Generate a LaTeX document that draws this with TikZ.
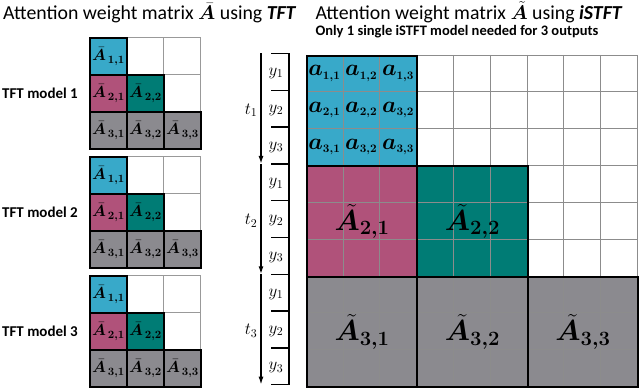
\RequirePackage{fix-cm}
\documentclass[tikz,border=0pt]{standalone}
\usepackage{amsmath, amssymb}
\usepackage{bm}
\usepackage[no-math]{fontspec}
\setmainfont{Carlito}
\usepackage{xcolor}
\definecolor{attnblue}{HTML}{38A9C9}
\definecolor{attnpink}{HTML}{B0527A}
\definecolor{attnteal}{HTML}{007C75}
\definecolor{attngray}{HTML}{8B8A8F}
\usepackage{tikz}
\usetikzlibrary{arrows.meta,positioning,calc}

\begin{document}
\begin{tikzpicture}[
  x=1pt, y=-1pt,
  title/.style={font=\fontsize{19.8}{22}\selectfont, inner sep=0pt},
  subtitle/.style={font=\fontsize{14.5}{16}\selectfont\bfseries, inner sep=0pt},
  model/.style={font=\fontsize{15}{17}\selectfont\bfseries, inner sep=0pt},
  wcell/.style={rectangle, draw=black!40, line width=0.6pt, minimum size=37pt,
                inner sep=0pt, anchor=north west},
  scell/.style={rectangle, draw=black, line width=1.8pt, minimum size=37pt,
                inner sep=0pt, anchor=north west, font=\fontsize{16}{18}\selectfont},
  gridline/.style={draw=black!45, line width=0.6pt},
  bblock/.style={rectangle, draw=black, line width=1.8pt, minimum size=110.4pt,
                 inner sep=0pt, anchor=north west, font=\fontsize{29}{31}\selectfont},
  aval/.style={font=\fontsize{23}{25}\selectfont, inner sep=0pt},
  brace/.style={line width=1.3pt, black},
  tarr/.style={-{Latex[length=8pt, width=5pt]}, line width=1.4pt, black},
  lab/.style={font=\fontsize{17}{18}\selectfont, inner sep=0pt},
]
\useasboundingbox (0,0) rectangle (640,390);

% ---- titles
\node[title, anchor=base west] (ttft) at (3,20)
  {Attention weight matrix $\bar{\bm{A}}$ using \textbf{\textit{TFT}}};
\node[title, anchor=base] (tistft) at (469,20)
  {Attention weight matrix $\tilde{\bm{A}}$ using \textbf{\textit{iSTFT}}};
\node[subtitle, anchor=base] (tsub) at (457,36)
  {Only 1 single iSTFT model needed for 3 outputs};

% ---- one TFT model per output
\foreach \m/\mtop in {1/37, 2/156, 3/275} {
  \foreach \i/\j in {1/2, 1/3, 2/3}
    \node[wcell] (m\m-\i\j) at ({89+37*(\j-1)}, {\mtop+37*(\i-1)}) {};
  \foreach \i/\j/\c in {1/1/attnblue, 2/1/attnpink, 2/2/attnteal,
                        3/1/attngray, 3/2/attngray, 3/3/attngray}
    \node[scell, fill=\c] (m\m-\i\j) at ({89+37*(\j-1)}, {\mtop+37*(\i-1)})
      {$\bar{\bm{A}}_{\,\bm{\i,\j}}$};
  \node[model, left=11pt of m\m-21] (lab\m) {TFT model \m};
}

% ---- the single iSTFT matrix
\fill[attnblue] (306,55) rectangle (416.4,165.4);
\fill[attnpink] (306,165.4) rectangle (416.4,275.8);
\fill[attnteal] (416.4,165.4) rectangle (526.8,275.8);
\fill[attngray] (306,275.8) rectangle (637.2,386.2);
\foreach \k in {0,...,9} {
  \draw[gridline] ({306+36.8*\k},55) -- ({306+36.8*\k},386.2);
  \draw[gridline] (306,{55+36.8*\k}) -- (637.2,{55+36.8*\k});
}

\node[bblock] (B11) at (306,55) {};
\node[bblock] (B21) at (306,165.4) {$\tilde{\bm{A}}_{\bm{2,1}}$};
\node[bblock] (B22) at (416.4,165.4) {$\tilde{\bm{A}}_{\bm{2,2}}$};
\node[bblock] (B31) at (306,275.8) {$\tilde{\bm{A}}_{\bm{3,1}}$};
\node[bblock] (B32) at (416.4,275.8) {$\tilde{\bm{A}}_{\bm{3,2}}$};
\node[bblock] (B33) at (526.8,275.8) {$\tilde{\bm{A}}_{\bm{3,3}}$};

% ---- entries of the first block
\foreach \i/\j/\s in {1/1/{1,1}, 1/2/{1,2}, 1/3/{1,3},
                      2/1/{2,1}, 2/2/{2,2}, 2/3/{3,2},
                      3/1/{3,1}, 3/2/{3,2}, 3/3/{3,3}}
  \node[aval] (a\i\j) at ({306+36.8*(\j-0.5)}, {55+36.8*(\i-0.5)})
    {$\bm{a}_{\scriptscriptstyle\bm{\s}}$};

% ---- outputs y per time step t
\foreach \k in {0,...,9} {
  \coordinate (tk\k) at (271,{53.5+36.8*\k});
  \coordinate (tb\k) at (289,{53.5+36.8*\k});
  \draw[brace] (tk\k) -- (tb\k);
}
\draw[brace] (tb0) -- (tb9);

\foreach \k/\n in {0/1, 1/2, 2/3} {
  \coordinate (ts\k) at (261,{53.5+110.4*\k});
  \coordinate (te\k) at (261,{53.5+110.4*\n});
  \draw[tarr] (ts\k) -- (te\k);
  \node[lab] (t\n) at (251,{55+110.4*\k+55.2}) {$t_\n$};
  \foreach \r in {1,2,3}
    \node[lab] (y\n\r) at (276,{55+110.4*\k+36.8*(\r-0.5)}) {$y_\r$};
}
\end{tikzpicture}
\end{document}
